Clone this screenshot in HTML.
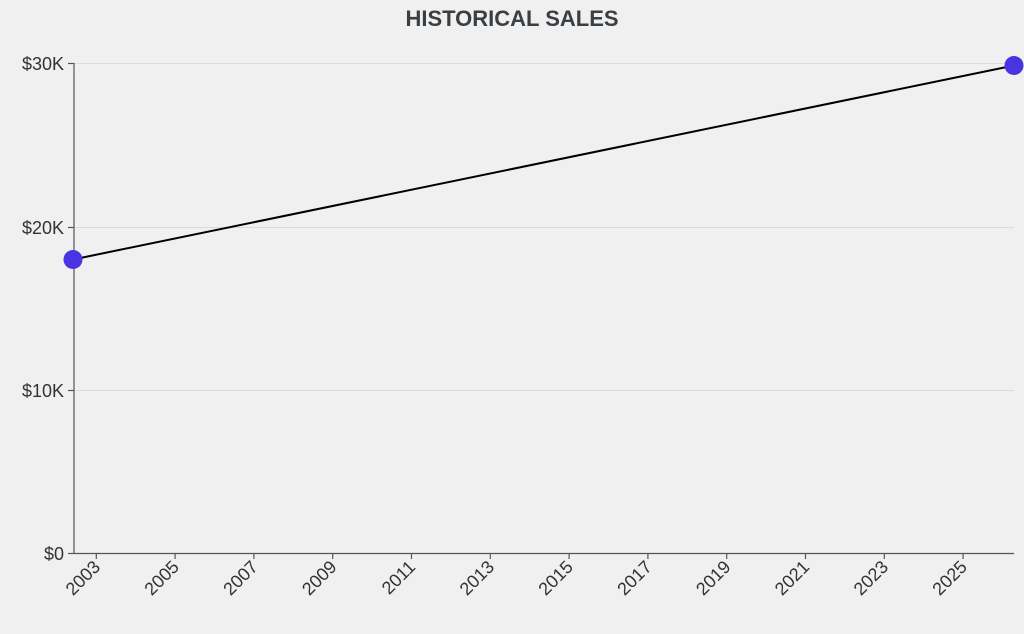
<!DOCTYPE html>
<html><head><style>
html,body{margin:0;padding:0;background:#f0f0f0;}
svg{display:block;font-family:"Liberation Sans",sans-serif;}
</style></head><body>
<svg width="1024" height="634" viewBox="0 0 1024 634">
<rect width="1024" height="634" fill="#f0f0f0"/>
<text x="512" y="26" text-anchor="middle" font-size="22" font-weight="bold" fill="#3a3f44">HISTORICAL SALES</text>
<g stroke="#dcdcdc" stroke-width="1">
<line x1="74" y1="63.5" x2="1014" y2="63.5"/>
<line x1="74" y1="227.5" x2="1014" y2="227.5"/>
<line x1="74" y1="390.5" x2="1014" y2="390.5"/>
</g>
<g stroke="#555" stroke-width="1.2" fill="none">
<line x1="74" y1="63" x2="74" y2="553.5"/>
<line x1="74" y1="553.5" x2="1014" y2="553.5"/>
<line x1="68" y1="63.5" x2="74" y2="63.5"/>
<line x1="68" y1="227.5" x2="74" y2="227.5"/>
<line x1="68" y1="390.5" x2="74" y2="390.5"/>
<line x1="68" y1="553.5" x2="74" y2="553.5"/>
</g>
<g font-size="18" fill="#333" text-anchor="end">
<text x="64" y="70">$30K</text>
<text x="64" y="234">$20K</text>
<text x="64" y="397">$10K</text>
<text x="64" y="560">$0</text>
</g>
<g stroke="#555" stroke-width="1.2" id="xt"></g>
<g font-size="18" fill="#333" text-anchor="end" id="xl"></g>
<line x1="73" y1="259.5" x2="1014" y2="65.5" stroke="#000" stroke-width="2"/>
<circle cx="73" cy="259.5" r="9.5" fill="#4a33e0"/>
<circle cx="1014" cy="65.5" r="9.5" fill="#4a33e0"/>
<script>
var t=document.getElementById('xt'),l=document.getElementById('xl'),ns='http://www.w3.org/2000/svg';
for(var i=0;i<12;i++){var x=96.3+i*78.8;
var ln=document.createElementNS(ns,'line');ln.setAttribute('x1',x);ln.setAttribute('x2',x);ln.setAttribute('y1',553.5);ln.setAttribute('y2',559);t.appendChild(ln);
var tx=document.createElementNS(ns,'text');tx.setAttribute('transform','translate('+(x+5)+',568) rotate(-45)');tx.textContent=2003+2*i;l.appendChild(tx);}
</script>
</svg>
</body></html>
